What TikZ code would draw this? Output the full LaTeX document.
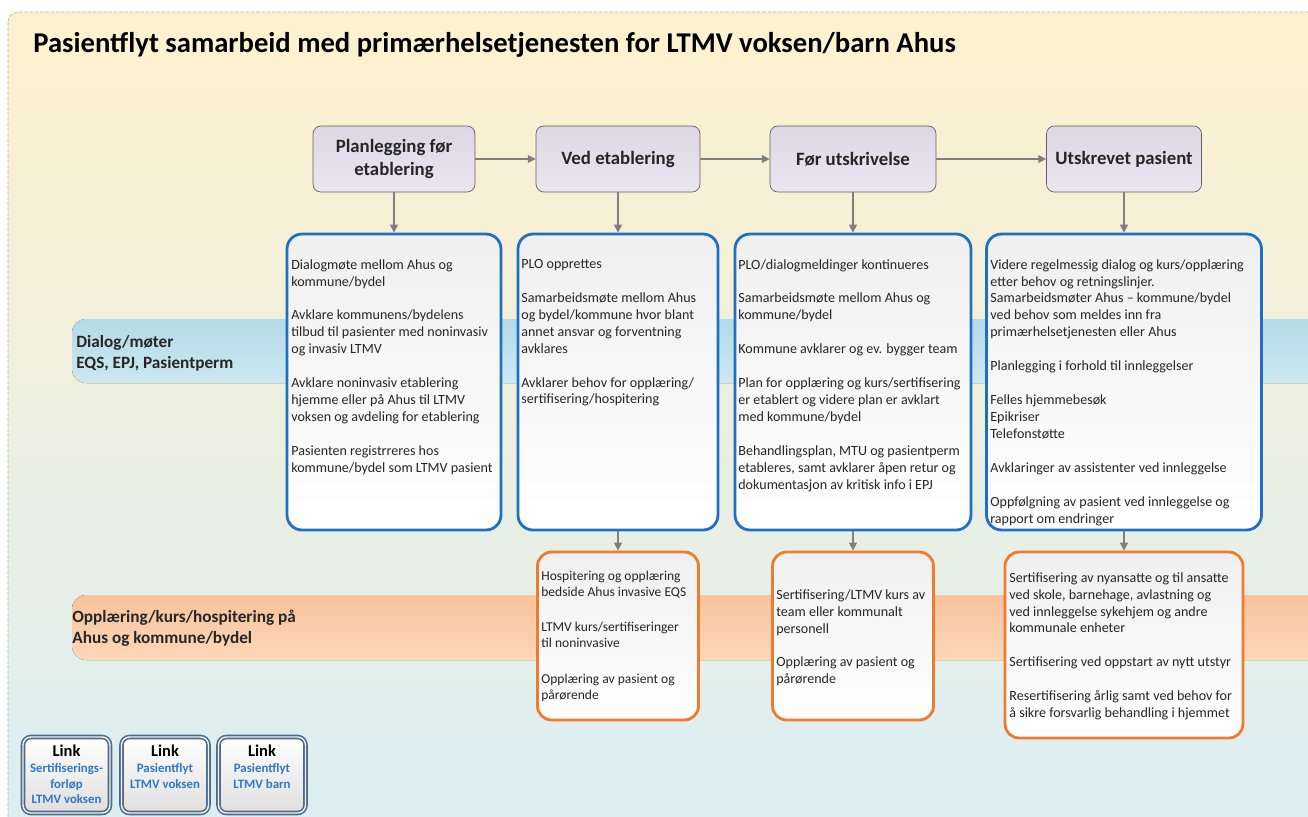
\documentclass[tikz,border=0pt]{standalone}
\usepackage{fontspec}
\setmainfont{Carlito}
\usetikzlibrary{arrows.meta,calc}

\definecolor{bgtop}{HTML}{FFF1CE}
\definecolor{bgmid}{HTML}{EDF0DE}
\definecolor{bgbot}{HTML}{DAEEF3}
\definecolor{bandblue}{HTML}{B3DAE8}
\definecolor{bandbluelt}{HTML}{CDE8F1}
\definecolor{bandorange}{HTML}{F8C29A}
\definecolor{bandorangelt}{HTML}{FCD8BB}
\definecolor{stepfill}{HTML}{DCD7E5}
\definecolor{stepfilllt}{HTML}{EAE6F0}
\definecolor{edgeblue}{HTML}{1F70C1}
\definecolor{edgeorange}{HTML}{EE7B30}
\definecolor{linkblue}{HTML}{2F78C6}
\definecolor{linkedge}{HTML}{4D6A88}
\definecolor{arrowgray}{HTML}{7F7F7F}

\newcommand\bodytxt{\fontsize{8}{9.64}\selectfont}
\newcommand\smalltxt{\fontsize{7.7}{9.07}\selectfont}
\newcommand\gap{\\[9.64pt]}

\begin{document}
\begin{tikzpicture}
	[x=0.02cm,y=-0.02cm,
	stepbox/.style={draw=gray!75!black, rounded corners=4.5pt, top color=stepfill, bottom color=stepfilllt,
		minimum height=1.32cm, align=center, text=black!85, font=\fontsize{10.7}{13}\selectfont\bfseries},
	bluebox/.style={draw=edgeblue, line width=1.6pt, rounded corners=8.5pt, top color=gray!12, bottom color=white,
		minimum height=5.92cm},
	orangebox/.style={draw=edgeorange, line width=1.6pt, rounded corners=8pt, top color=gray!12, bottom color=white},
	boxtext/.style={anchor=north west, inner sep=0pt, align=left, text=black!85, font=\bodytxt},
	bandtext/.style={anchor=north west, inner sep=0pt, align=left, text=black!85, font=\fontsize{9.8}{11.9}\selectfont\bfseries},
	linkbox/.style={draw=linkedge, line width=0.9pt, double=gray!10, double distance=0.8pt, rounded corners=4.5pt,
		top color=white, bottom color=gray!25, minimum width=1.74cm, minimum height=1.52cm},
	linktext/.style={anchor=north, inner sep=0pt, align=center, text=linkblue, font=\fontsize{7.3}{9.07}\selectfont\bfseries},
	flow/.style={draw=arrowgray, line width=0.7pt, -{Triangle[length=4.5pt,width=4.5pt]}}]
	\clip (0,0) rectangle (1308,816);
	% background and bands
	\draw[dash pattern=on 2pt off 1pt, draw=gray!60, rounded corners=6pt, top color=bgtop, middle color=bgmid, bottom color=bgbot]
		(8,12) rectangle (1340,850);
	\fill[top color=bandblue, bottom color=bandbluelt, rounded corners=8pt] (72,319) rectangle (1340,383);
	\fill[top color=bandorange, bottom color=bandorangelt, rounded corners=8pt] (72,595) rectangle (1340,660);
	\node[anchor=west, inner sep=0pt, font=\fontsize{16.3}{19}\selectfont\bfseries] (title) at (33,45)
		{Pasientflyt samarbeid med primærhelsetjenesten for LTMV voksen/barn Ahus};
	\node[bandtext] (dialog) at (76,335) {Dialog/møter\\EQS, EPJ, Pasientperm};
	\node[bandtext] (opplaering) at (72,610) {Opplæring/kurs/hospitering på\\Ahus og kommune/bydel};

	% phases
	\node[stepbox, minimum width=3.24cm] (plan) at (394,159) {Planlegging før\\etablering};
	\node[stepbox, minimum width=3.28cm] (etab) at (618,159) {Ved etablering};
	\node[stepbox, minimum width=3.32cm] (utskr) at (853,159) {Før utskrivelse};
	\node[stepbox, minimum width=3.10cm] (pasient) at (1124,159) {Utskrevet pasient};
	\draw[flow] (plan) -- (etab);
	\draw[flow] (etab) -- (utskr);
	\draw[flow] (utskr) -- (pasient);

	% dialog boxes
	\node[bluebox, minimum width=4.28cm] (bplan) at (394,382) {};
	\node[bluebox, minimum width=4.0cm] (betab) at (618,382) {};
	\node[bluebox, minimum width=4.72cm] (butskr) at (853,382) {};
	\node[bluebox, minimum width=5.5cm] (bpasient) at (1124,382) {};
	\draw[flow] (plan) -- (bplan);
	\draw[flow] (etab) -- (betab);
	\draw[flow] (utskr) -- (butskr);
	\draw[flow] (pasient) -- (bpasient);

	\node[boxtext] (tplan) at (291,259) {Dialogmøte mellom Ahus og\\kommune/bydel\gap
		Avklare kommunens/bydelens\\tilbud til pasienter med noninvasiv\\og invasiv LTMV\gap
		Avklare noninvasiv etablering\\hjemme eller på Ahus til LTMV\\voksen og avdeling for etablering\gap
		Pasienten registrreres hos\\kommune/bydel som LTMV pasient};
	\node[boxtext] (tetab) at (521,259) {PLO opprettes\gap
		Samarbeidsmøte mellom Ahus\\og bydel/kommune hvor blant\\annet ansvar og forventning\\avklares\gap
		Avklarer behov for opplæring/\\sertifisering/hospitering};
	\node[boxtext] (tutskr) at (738,259) {PLO/dialogmeldinger kontinueres\gap
		Samarbeidsmøte mellom Ahus og\\kommune/bydel\gap
		Kommune avklarer og ev. bygger team\gap
		Plan for opplæring og kurs/sertifisering\\er etablert og videre plan er avklart\\med kommune/bydel\gap
		Behandlingsplan, MTU og pasientperm\\etableres, samt avklarer åpen retur og\\dokumentasjon av kritisk info i EPJ};
	\node[boxtext] (tpasient) at (990,259) {Videre regelmessig dialog og kurs/opplæring\\etter behov og retningslinjer.\\
		Samarbeidsmøter Ahus -- kommune/bydel\\ved behov som meldes inn fra\\primærhelsetjenesten eller Ahus\gap
		Planlegging i forhold til innleggelser\gap
		Felles hjemmebesøk\\Epikriser\\Telefonstøtte\gap
		Avklaringer av assistenter ved innleggelse\gap
		Oppfølgning av pasient ved innleggelse og\\rapport om endringer};

	% training boxes
	\node[orangebox, minimum width=3.22cm, minimum height=3.36cm] (oetab) at (618,636) {};
	\node[orangebox, minimum width=3.22cm, minimum height=3.36cm] (outskr) at (853,636) {};
	\node[orangebox, minimum width=4.76cm, minimum height=3.72cm] (opasient) at (1124,645) {};
	\draw[flow] (betab) -- (oetab);
	\draw[flow] (butskr) -- (outskr);
	\draw[flow] (bpasient) -- (opasient);

	\node[boxtext, font=\smalltxt] (toetab) at (541,571) {Hospitering og opplæring\\bedside Ahus invasive EQS\\[11pt]
		LTMV kurs/sertifiseringer\\til noninvasive\\[11pt]
		Opplæring av pasient og\\pårørende};
	\node[boxtext] (toutskr) at (776,589) {Sertifisering/LTMV kurs av\\team eller kommunalt\\personell\gap
		Opplæring av pasient og\\pårørende};
	\node[boxtext] (topasient) at (1009,572) {Sertifisering av nyansatte og til ansatte\\ved skole, barnehage, avlastning og\\
		ved innleggelse sykehjem og andre\\kommunale enheter\gap
		Sertifisering ved oppstart av nytt utstyr\gap
		Resertifisering årlig samt ved behov for\\å sikre forsvarlig behandling i hjemmet};

	% links
	\node[linkbox] (link1) at (66.5,775) {};
	\node[linkbox] (link2) at (165,775) {};
	\node[linkbox] (link3) at (262,775) {};
	\node[linktext] (tlink1) at ($(link1.north)+(0,8)$) {{\color{black}\fontsize{9.4}{11}\selectfont Link}\\Sertifiserings-\\forløp\\LTMV voksen};
	\node[linktext] (tlink2) at ($(link2.north)+(0,8)$) {{\color{black}\fontsize{9.4}{11}\selectfont Link}\\Pasientflyt\\LTMV voksen};
	\node[linktext] (tlink3) at ($(link3.north)+(0,8)$) {{\color{black}\fontsize{9.4}{11}\selectfont Link}\\Pasientflyt\\LTMV barn};
\end{tikzpicture}
\end{document}
